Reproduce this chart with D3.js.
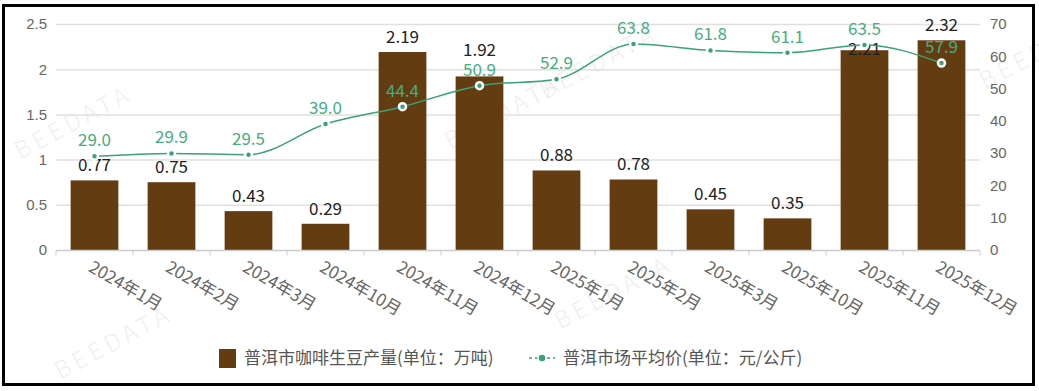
<!DOCTYPE html>
<html>
<head>
<meta charset="utf-8">
<script src="https://cdn.jsdelivr.net/npm/d3@7/dist/d3.min.js"></script>
<style>
  body { margin: 0; background: #fff; }
  svg { display: block; font-family: "Noto Sans CJK SC", "Noto Sans", sans-serif; }
</style>
</head>
<body>
<svg width="1039" height="391"></svg>
<script>
// data
var months = ['2024年1月', '2024年2月', '2024年3月', '2024年10月', '2024年11月', '2024年12月',
              '2025年1月', '2025年2月', '2025年3月', '2025年10月', '2025年11月', '2025年12月'];
var output = [0.77, 0.75, 0.43, 0.29, 2.19, 1.92, 0.88, 0.78, 0.45, 0.35, 2.21, 2.32];
var price = [29.0, 29.9, 29.5, 39.0, 44.4, 50.9, 52.9, 63.8, 61.8, 61.1, 63.5, 57.9];
var leftTicks = [0, 0.5, 1, 1.5, 2, 2.5];
var rightTicks = [0, 10, 20, 30, 40, 50, 60, 70];
var legendNames = ['普洱市咖啡生豆产量(单位：万吨)', '普洱市场平均价(单位：元/公斤)'];

var brown = '#643c12';
var green = '#3aa276';
var labelGreen = '#45ad80';

var svg = d3.select('svg');

// frame
svg.append('rect')
    .attr('x', 3.5).attr('y', 5.5)
    .attr('width', 1030).attr('height', 379)
    .attr('fill', 'none')
    .attr('stroke', '#000')
    .attr('stroke-width', 3);

var pLeft = 56, pRight = 980, pTop = 24, pBottom = 250;

var x = d3.scaleBand().domain(months).range([pLeft, pRight]).paddingInner(0.38).paddingOuter(0.19);
var yL = d3.scaleLinear().domain([0, 2.5]).range([pBottom, pTop]);
var yR = d3.scaleLinear().domain([0, 70]).range([pBottom, pTop]);

// watermarks (faint)
var marks = [[20, 160], [450, 150], [545, 100], [60, 380], [560, 330], [985, 90]];
svg.append('g').selectAll('text')
    .data(marks)
    .enter().append('text')
    .attr('transform', function(d) { return 'translate(' + d[0] + ',' + d[1] + ') rotate(-28)'; })
    .attr('fill', '#000')
    .attr('fill-opacity', 0.06)
    .style('font-size', '24px')
    .style('letter-spacing', '4px')
    .text('BEEDATA');

// grid lines
svg.append('g').selectAll('line')
    .data(leftTicks.filter(function(d) { return d > 0; }))
    .enter().append('line')
    .attr('x1', pLeft).attr('x2', pRight)
    .attr('y1', function(d) { return yL(d) + 0.5; })
    .attr('y2', function(d) { return yL(d) + 0.5; })
    .attr('stroke', '#e0e0e0')
    .attr('stroke-width', 1.5);

// left axis
var axL = svg.append('g')
    .attr('transform', 'translate(' + pLeft + ',0)')
    .call(d3.axisLeft(yL).tickValues(leftTicks).tickSize(0).tickPadding(9).tickFormat(d3.format('')));
axL.select('.domain').remove();
axL.selectAll('text').attr('fill', '#666').style('font-size', '15px').style('font-family', 'inherit');

// right axis
var axR = svg.append('g')
    .attr('transform', 'translate(' + pRight + ',0)')
    .call(d3.axisRight(yR).tickValues(rightTicks).tickSize(0).tickPadding(10));
axR.select('.domain').remove();
axR.selectAll('text').attr('fill', '#666').style('font-size', '15px').style('font-family', 'inherit');

// bars
svg.append('g').selectAll('rect')
    .data(output)
    .enter().append('rect')
    .attr('x', function(d, i) { return x(months[i]); })
    .attr('y', function(d) { return yL(d); })
    .attr('width', x.bandwidth())
    .attr('height', function(d) { return pBottom - yL(d); })
    .attr('fill', brown);

// x axis
var step = x.step();
var axB = svg.append('g').attr('transform', 'translate(0,' + (pBottom + 0.5) + ')');
axB.append('line').attr('x1', pLeft).attr('x2', pRight).attr('stroke', '#ccc').attr('stroke-width', 1.5);
axB.selectAll('line.tick')
    .data(d3.range(months.length + 1))
    .enter().append('line')
    .attr('class', 'tick')
    .attr('x1', function(i) { return pLeft + i * step; })
    .attr('x2', function(i) { return pLeft + i * step; })
    .attr('y1', 0).attr('y2', 5)
    .attr('stroke', '#ccc');
axB.selectAll('text')
    .data(months)
    .enter().append('text')
    .attr('transform', function(d) {
        return 'translate(' + (x(d) + x.bandwidth() / 2 - 4) + ',15) rotate(30)';
    })
    .attr('fill', '#666')
    .style('font-size', '17px')
    .attr('dy', '0.35em')
    .text(function(d) { return d; });

// label positions: bar labels and price labels, nudge bar labels clear of price labels
var cx = function(i) { return x(months[i]) + x.bandwidth() / 2; };
var barLabelY = output.map(function(d) { return yL(d) - 9; });
var priceLabelY = price.map(function(d) { return yR(d) - 10; });
barLabelY = barLabelY.map(function(b, i) {
    var g = priceLabelY[i];
    if (Math.abs(b - g) >= 20) return b;
    return b < g ? g - 20 : g + 20;
});

// bar labels
svg.append('g').selectAll('text')
    .data(output)
    .enter().append('text')
    .attr('x', function(d, i) { return cx(i); })
    .attr('y', function(d, i) { return barLabelY[i]; })
    .attr('text-anchor', 'middle')
    .attr('fill', '#222')
    .style('font-size', '17px')
    .text(function(d) { return d3.format('.2f')(d); });

// price line
var line = d3.line()
    .x(function(d, i) { return cx(i); })
    .y(function(d) { return yR(d); })
    .curve(d3.curveMonotoneX);

svg.append('path')
    .datum(price)
    .attr('d', line)
    .attr('fill', 'none')
    .attr('stroke', green)
    .attr('stroke-width', 1.5);

svg.append('g').selectAll('circle')
    .data(price)
    .enter().append('circle')
    .attr('cx', function(d, i) { return cx(i); })
    .attr('cy', function(d) { return yR(d); })
    .attr('r', 3.5)
    .attr('fill', green)
    .attr('stroke', '#fff')
    .attr('stroke-width', 2.5);

svg.append('g').selectAll('text')
    .data(price)
    .enter().append('text')
    .attr('x', function(d, i) { return cx(i); })
    .attr('y', function(d, i) { return priceLabelY[i]; })
    .attr('text-anchor', 'middle')
    .attr('fill', labelGreen)
    .style('font-size', '17px')
    .text(function(d) { return d3.format('.1f')(d); });

// legend
var lg = svg.append('g').attr('transform', 'translate(0,358)');
lg.append('rect').attr('x', 219).attr('y', -9).attr('width', 17).attr('height', 19).attr('fill', brown);
lg.append('text').attr('x', 244).attr('y', 0).attr('dy', '0.35em')
    .attr('fill', '#555').style('font-size', '17px').text(legendNames[0]);
lg.append('line').attr('x1', 529).attr('x2', 555).attr('y1', 0).attr('y2', 0)
    .attr('stroke', green).attr('stroke-width', 1.5).attr('stroke-dasharray', '3,3');
lg.append('circle').attr('cx', 542).attr('cy', 0).attr('r', 4).attr('fill', green)
    .attr('stroke', '#fff').attr('stroke-width', 1.5);
lg.append('text').attr('x', 563).attr('y', 0).attr('dy', '0.35em')
    .attr('fill', '#555').style('font-size', '17px').text(legendNames[1]);
</script>
</body>
</html>
